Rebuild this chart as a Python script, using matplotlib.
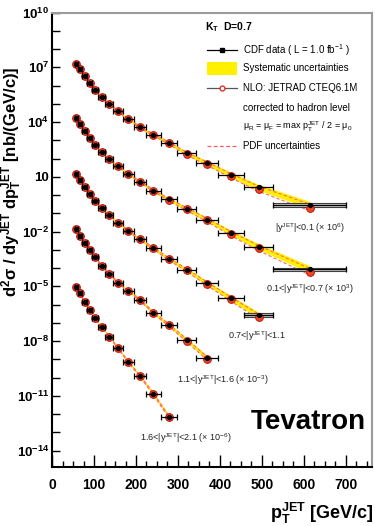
import matplotlib as mpl
mpl.use('Agg')
import matplotlib.pyplot as plt
import numpy as np
from matplotlib.patches import Rectangle
from matplotlib.lines import Line2D
from matplotlib.ticker import FixedLocator, MultipleLocator, FuncFormatter, NullFormatter

plt.rcParams['font.family'] = ['Liberation Sans', 'DejaVu Sans']

# pT bin edges [GeV/c]
edges = np.array([54, 62, 72, 83, 96, 110, 127, 146, 169, 195, 224, 259, 298,
                  344, 396, 457, 527, 700], dtype=float)

# measured cross sections [nb/(GeV/c)], unscaled
xs_y01 = [15.1, 7.76, 3.31, 1.41, 0.562, 0.245, 0.0977, 0.0398, 0.0145, 5.13e-3,
          2.00e-3, 7.08e-4, 1.91e-4, 5.50e-5, 1.26e-5, 2.63e-6, 2.82e-7]
xs_y07 = [15.8, 7.76, 3.31, 1.38, 0.550, 0.234, 0.0891, 0.0380, 0.0141, 5.37e-3,
          1.74e-3, 5.75e-4, 1.74e-4, 4.47e-5, 8.51e-6, 1.48e-6, 8.51e-8]
xs_y11 = [14.1, 6.31, 2.63, 1.12, 0.490, 0.200, 0.0794, 0.0302, 0.0110, 3.72e-3,
          1.20e-3, 3.16e-4, 7.94e-5, 1.45e-5, 2.19e-6, 2.63e-7]
xs_y16 = [13.2, 5.62, 2.45, 0.977, 0.389, 0.129, 0.0468, 0.0155, 5.75e-3, 1.78e-3,
          3.55e-4, 7.59e-5, 1.12e-5, 1.17e-6]
xs_y21 = [9.55, 4.07, 1.41, 0.525, 0.174, 0.0562, 0.0174, 3.98e-3, 7.24e-4,
          1.20e-4, 1.26e-5, 7.08e-7]

scales = [1e6, 1e3, 1.0, 1e-3, 1e-6]
labels = [r'|y$\mathregular{^{JET}}$|<0.1 (× 10$\mathregular{^{6}}$)',
          r'0.1<|y$\mathregular{^{JET}}$|<0.7 (× 10$\mathregular{^{3}}$)',
          r'0.7<|y$\mathregular{^{JET}}$|<1.1',
          r'1.1<|y$\mathregular{^{JET}}$|<1.6 (× 10$\mathregular{^{-3}}$)',
          r'1.6<|y$\mathregular{^{JET}}$|<2.1 (× 10$\mathregular{^{-6}}$)']
label_pos = [(0.806, 0.526), (0.806, 0.392), (0.641, 0.288), (0.534, 0.191), (0.419, 0.064)]

# relative uncertainties per pT bin
syst_up = [0.10, 0.10, 0.10, 0.11, 0.11, 0.12, 0.13, 0.14, 0.16, 0.18, 0.20, 0.23,
           0.27, 0.32, 0.38, 0.46, 0.60]
syst_dn = [0.09, 0.09, 0.09, 0.10, 0.10, 0.11, 0.12, 0.13, 0.14, 0.16, 0.17, 0.19,
           0.21, 0.24, 0.27, 0.30, 0.35]
pdf_up = [0.05, 0.05, 0.05, 0.05, 0.06, 0.06, 0.07, 0.08, 0.09, 0.11, 0.13, 0.16,
          0.20, 0.25, 0.32, 0.40, 0.55]
pdf_dn = [0.05, 0.05, 0.05, 0.05, 0.05, 0.06, 0.06, 0.07, 0.08, 0.09, 0.11, 0.13,
          0.15, 0.18, 0.22, 0.26, 0.32]
# NLO / data
nlo_ratio = [1.02, 1.00, 1.00, 0.98, 1.00, 1.02, 1.00, 1.00, 0.98, 1.00, 1.00, 0.97,
             0.95, 0.92, 0.88, 0.82, 0.72]

series = [xs_y01, xs_y07, xs_y11, xs_y16, xs_y21]

fig = plt.figure(figsize=(3.75, 5.26), dpi=100)
ax = fig.add_axes([0.1387, 0.1122, 0.8533, 0.8640])

centres = 0.5 * (edges[:-1] + edges[1:])
for i, vals in enumerate(series):
    nb = len(vals)
    x = centres[:nb]
    y = np.array(vals) * scales[i]
    su = np.array(syst_up[:nb]); sd = np.array(syst_dn[:nb])
    pu = np.array(pdf_up[:nb]); pd_ = np.array(pdf_dn[:nb])
    nlo = y * np.array(nlo_ratio[:nb])

    ax.fill_between(x, y * (1 - sd), y * (1 + su), color='#fff000', lw=0, zorder=1)
    ax.plot(x, nlo * (1 + pu), ls=(0, (3, 2)), color='#ff6a6a', lw=0.8, zorder=2)
    ax.plot(x, nlo * (1 - pd_), ls=(0, (3, 2)), color='#ff6a6a', lw=0.8, zorder=2)
    if i < 3:
        lo, hi = edges[nb - 1], edges[nb]
        ax.add_patch(Rectangle((lo, y[-1] / 1.25), hi - lo, y[-1] * 1.25 - y[-1] / 1.25,
                               facecolor='#c8c8c8', edgecolor='#404040', lw=0.8, zorder=3))
    ax.plot(x, nlo, 'o', ms=5.5, mfc='#ee4a22', mec='#c01a10', mew=0.8, zorder=4)
    ax.errorbar(x, y, xerr=[x - edges[:nb], edges[1:nb + 1] - x], fmt='o', ms=2.8,
                color='black', elinewidth=0.9, capsize=2, capthick=0.9, zorder=5)
    ax.text(label_pos[i][0], label_pos[i][1], labels[i], transform=ax.transAxes,
            ha='center', va='center', fontsize=6.5, color='#222222')

ax.set_yscale('log')
ax.set_xlim(0, 762)
ax.set_ylim(1.26e-15, 1e10)

ax.yaxis.set_major_locator(FixedLocator([10.0 ** k for k in range(10, -15, -3)]))
ax.yaxis.set_minor_locator(FixedLocator([10.0 ** k for k in range(-14, 11)]))
ax.yaxis.set_minor_formatter(NullFormatter())
def ylab(v, pos):
    k = int(round(np.log10(v)))
    if k == 1:
        return '10'
    return r'10$\mathregular{^{%d}}$' % k
ax.yaxis.set_major_formatter(FuncFormatter(ylab))
ax.xaxis.set_major_locator(MultipleLocator(100))
ax.xaxis.set_minor_locator(MultipleLocator(25))

ax.tick_params(axis='both', which='both', direction='in', top=False, right=False, width=1)
ax.tick_params(axis='x', which='major', length=9, pad=8)
ax.tick_params(axis='x', which='minor', length=4)
ax.tick_params(axis='y', which='both', length=6, pad=2)
for t in ax.get_xticklabels():
    t.set_fontsize(10)
    t.set_fontweight('bold')
for t in ax.get_yticklabels():
    t.set_fontsize(9.5)
    t.set_fontweight('bold')

for s in ['left', 'bottom']:
    ax.spines[s].set_linewidth(1.5)
    ax.spines[s].set_color('black')
for s in ['top', 'right']:
    ax.spines[s].set_linewidth(1.5)
    ax.spines[s].set_color('#9a9a9a')

# legend block
tr = ax.transAxes
ax.text(0.478, 0.968, r'K$\mathregular{_T}$  D=0.7', transform=tr, fontsize=7.5,
        fontweight='bold', va='center')
lx0, lx1, tx = 0.484, 0.578, 0.597
ax.add_line(Line2D([lx0, lx1], [0.9175, 0.9175], color='black', lw=0.9, transform=tr))
ax.add_line(Line2D([0.531], [0.9175], marker='s', ms=3, color='black', transform=tr))
ax.text(tx, 0.9175, r'CDF data ( L = 1.0 fb$\mathregular{^{-1}}$ )', transform=tr,
        fontsize=7, va='center')
ax.add_patch(Rectangle((lx0, 0.862), lx1 - lx0, 0.03, facecolor='#fff000', lw=0,
                       transform=tr))
ax.text(tx, 0.877, 'Systematic uncertainties', transform=tr, fontsize=7, va='center')
ax.add_line(Line2D([lx0, lx1], [0.834, 0.834], color='#555555', lw=0.9, transform=tr))
ax.add_line(Line2D([0.531], [0.834], marker='o', ms=3.5, mfc='white', mec='#e02010',
                   mew=0.9, transform=tr))
ax.text(tx, 0.834, 'NLO: JETRAD CTEQ6.1M', transform=tr, fontsize=7, va='center')
ax.text(tx, 0.790, 'corrected to hadron level', transform=tr, fontsize=7, va='center')
ax.text(tx, 0.748, r'$\mathregular{\mu_R}$ = $\mathregular{\mu_F}$ = max '
        r'p$\mathregular{_T^{JET}}$ / 2 = $\mathregular{\mu_0}$',
        transform=tr, fontsize=6.5, va='center')
ax.add_line(Line2D([lx0, lx1], [0.706, 0.706], color='#ff5a5a', lw=0.9,
                   ls=(0, (3, 2)), transform=tr))
ax.text(tx, 0.706, 'PDF uncertainties', transform=tr, fontsize=7, va='center')

ax.text(0.80, 0.099, 'Tevatron', transform=tr, fontsize=20, fontweight='bold',
        ha='center', va='center')

fig.text(11.5 / 375, 1 - 182 / 526,
         r'd$\mathregular{^{2}}$σ / dy$\mathregular{^{JET}}$ dp$\mathregular{_T^{JET}}$'
         r' [nb/(GeV/c)]', rotation=90, ha='center', va='center', fontsize=12,
         fontweight='bold')
fig.text(374 / 375, 1 - 513 / 526, r'p$\mathregular{_T^{JET}}$ [GeV/c]', ha='right',
         va='center', fontsize=13, fontweight='bold')

fig.savefig('out.png', dpi=100)
